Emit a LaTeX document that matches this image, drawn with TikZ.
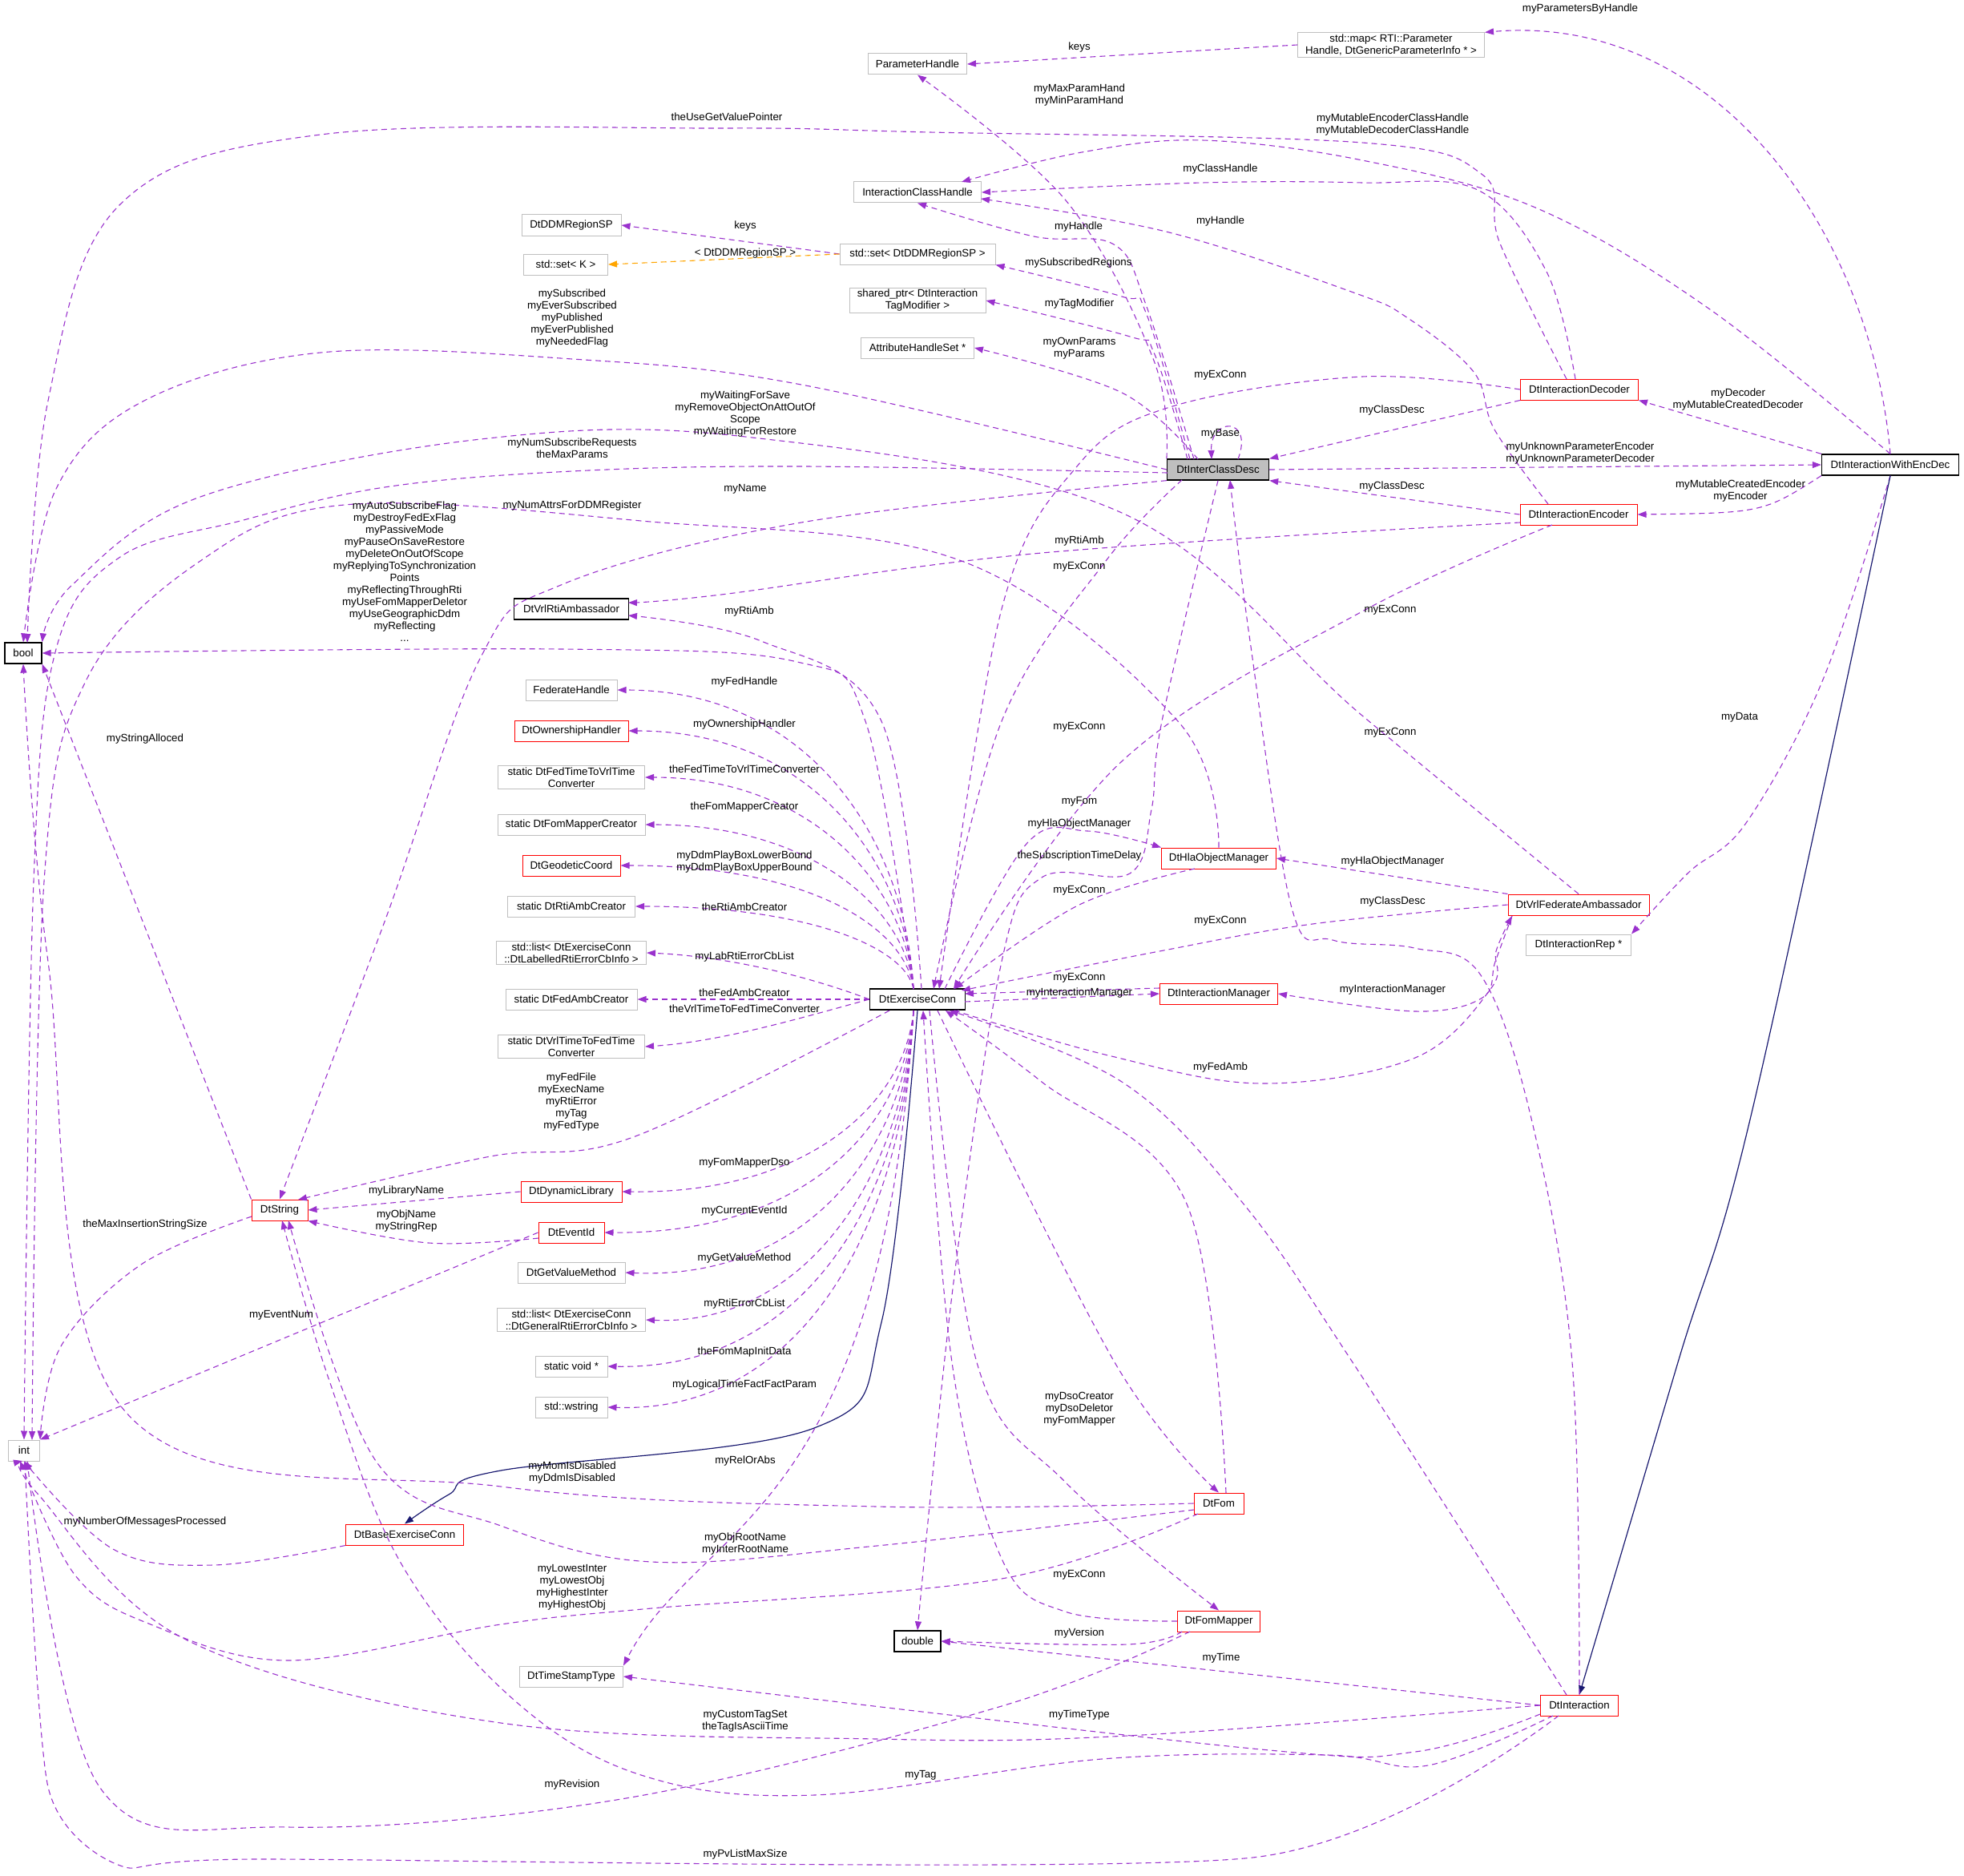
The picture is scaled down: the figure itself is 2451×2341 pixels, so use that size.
\documentclass[tikz,border=0pt]{standalone}
\usepackage{fontspec}
\setmainfont{Liberation Sans}
\usetikzlibrary{arrows.meta}
\definecolor{dep}{HTML}{9A32CD}
\definecolor{inh}{HTML}{191970}
\definecolor{tmp}{HTML}{FFA500}
\definecolor{gb}{HTML}{BFBFBF}
\begin{document}
\begin{tikzpicture}[x=1pt,y=-1pt,
  every node/.style={font=\fontsize{13.3}{15}\selectfont, inner sep=2pt, align=center},
  box/.style={draw, line width=1pt, minimum height=26pt, fill=white},
  gray/.style={box, draw=gb},
  red/.style={box, draw=red},
  blk/.style={box, draw=black, line width=1.3pt},
  lab/.style={fill=none},
  dep/.style={draw=dep, line width=1.1pt, dash pattern=on 7pt off 5pt, -{Triangle[length=11pt,width=8pt]}},
  tmpl/.style={dep, draw=tmp, -{Triangle[length=11pt,width=8pt,fill=tmp]}},
  inhe/.style={draw=inh, line width=1.2pt, -{Triangle[length=11pt,width=8pt]}},
  sm/.style={smooth, tension=0.6}]
\useasboundingbox (0,0) rectangle (2451,2341);
% nodes
\node[gray, minimum width=123] (PH) at (1145,80) {ParameterHandle};
\node[gray, minimum width=233] (Map) at (1736,56) {std::map< RTI::Parameter\\Handle, DtGenericParameterInfo * >};
\node[gray, minimum width=159] (ICH) at (1145,240) {InteractionClassHandle};
\node[gray, minimum width=124] (DDMR) at (713,281) {DtDDMRegionSP};
\node[gray, minimum width=105] (SetK) at (706,330) {std::set< K >};
\node[gray, minimum width=194] (SetDDM) at (1145,317) {std::set< DtDDMRegionSP >};
\node[gray, minimum width=170] (SP) at (1145,375) {shared\_ptr< DtInteraction\\TagModifier >};
\node[gray, minimum width=141] (AHS) at (1145,434) {AttributeHandleSet *};
\node[blk, fill=gb, minimum width=127] (ICD) at (1520,586) {DtInterClassDesc};
\node[red, minimum width=147] (Dec) at (1971,486) {DtInteractionDecoder};
\node[blk, minimum width=171] (WED) at (2359,580) {DtInteractionWithEncDec};
\node[red, minimum width=146] (Enc) at (1970,642) {DtInteractionEncoder};
\node[blk, minimum width=46] (bool) at (29,815) {bool};
\node[blk, minimum width=143] (VRA) at (713,760) {DtVrlRtiAmbassador};
\node[gray, minimum width=114] (FH) at (713,861) {FederateHandle};
\node[red, minimum width=142] (OH) at (713,912) {DtOwnershipHandler};
\node[gray, minimum width=183] (FTV) at (713,970) {static DtFedTimeToVrlTime\\Converter};
\node[gray, minimum width=184] (FMC) at (713,1029) {static DtFomMapperCreator};
\node[red, minimum width=122] (GC) at (713,1080) {DtGeodeticCoord};
\node[gray, minimum width=159] (RAC) at (713,1131) {static DtRtiAmbCreator};
\node[gray, minimum width=187] (LL) at (713,1189) {std::list< DtExerciseConn\\::DtLabelledRtiErrorCbInfo >};
\node[gray, minimum width=164] (FAC) at (713,1247) {static DtFedAmbCreator};
\node[gray, minimum width=183] (VTF) at (713,1306) {static DtVrlTimeToFedTime\\Converter};
\node[blk, minimum width=119] (EC) at (1145,1247) {DtExerciseConn};
\node[red, minimum width=143] (Hla) at (1521,1071) {DtHlaObjectManager};
\node[red, minimum width=176] (Vrl) at (1970,1129) {DtVrlFederateAmbassador};
\node[gray, minimum width=131] (Rep) at (1970,1179) {DtInteractionRep *};
\node[red, minimum width=147] (IM) at (1521,1240) {DtInteractionManager};
\node[red, minimum width=70] (Str) at (349,1510) {DtString};
\node[red, minimum width=126] (DL) at (713,1487) {DtDynamicLibrary};
\node[red, minimum width=82] (EI) at (713,1538) {DtEventId};
\node[gray, minimum width=134] (GVM) at (713,1588) {DtGetValueMethod};
\node[gray, minimum width=185] (GL) at (713,1647) {std::list< DtExerciseConn\\::DtGeneralRtiErrorCbInfo >};
\node[gray, minimum width=90] (SV) at (713,1705) {static void *};
\node[gray, minimum width=90] (WS) at (713,1756) {std::wstring};
\node[gray, minimum width=39] (int) at (30,1810) {int};
\node[red, minimum width=62] (Fom) at (1521,1876) {DtFom};
\node[red, minimum width=147] (Base) at (505,1915) {DtBaseExerciseConn};
\node[blk, minimum width=58] (Dbl) at (1145,2048) {double};
\node[red, minimum width=103] (FM) at (1521,2023) {DtFomMapper};
\node[gray, minimum width=129] (TST) at (713,2092) {DtTimeStampType};
\node[red, minimum width=97] (Int) at (1971,2128) {DtInteraction};

% edges
\draw[dep] (Map.west) -- (PH.east);
\draw[dep] (WED.north) to[out=95,in=5] (Map.north east);
\draw[dep] (SetDDM.west) -- (DDMR.east);
\draw[tmpl] (SetDDM.west) -- (SetK.east);
\draw[dep] plot[sm] coordinates {(ICD.north west) (1440,450) (1330,250) (PH.south)};
\draw[dep] plot[sm] coordinates {(1490,573) (1430,380) (1390,305) (1290,295) (ICH.south)};
\draw[dep] plot[sm] coordinates {(1485,573) (1430,390) (1400,370) (SetDDM.south east)};
\draw[dep] plot[sm] coordinates {(1482,573) (1440,440) (1410,420) (SP.east)};
\draw[dep] plot[sm] coordinates {(1495,573) (1400,490) (AHS.east)};
\draw[dep] (1545,573) .. controls (1565,520) and (1510,520) .. (1512,573);
\draw[dep] plot[sm] coordinates {(ICD.west) (1000,480) (714,448) (400,440) (180,500) (70,610) (bool.north)};
\draw[dep] plot[sm] coordinates {(Vrl.north) (1700,893) (1400,640) (930,545) (600,548) (250,620) (90,730) (bool.north east)};
\draw[dep] plot[sm] coordinates {(1457,590) (1000,582) (714,588) (480,608) (300,650) (150,695) (70,810) (42,1100) (int.north)};
\draw[dep] plot[sm] coordinates {(ICD.south west) (1000,652) (700,730) (600,820) (480,1150) (Str.north)};
\draw[dep] (ICD.east) -- (WED.west);
\draw[dep] plot[sm] coordinates {(ICD.south) (1450,900) (1437,1010) (1410,1090) (1300,1095) (1250,1200) (1190,1600) (Dbl.north)};
\draw[dep] plot[sm] coordinates {(1475,599) (1380,700) (1250,900) (1165,1234)};
\draw[dep] plot[sm] coordinates {(Dec.west) (1700,470) (1460,508) (1344,582) (1250,760) (1172,1234)};
\draw[dep] plot[sm] coordinates {(1966,473) (1930,339) (1844,237) (1700,228) (1500,228) (ICH.east)};
\draw[dep] plot[sm] coordinates {(1955,473) (1872,304) (1850,218) (1700,178) (1160,165) (900,160) (400,168) (150,255) (60,500) (34,802)};
\draw[dep] plot[sm] coordinates {(WED.north) (2131,384) (1916,259) (1700,200) (1500,175) (1350,190) (1200,227)};
\draw[dep] (Dec.south west) -- (ICD.north east);
\draw[dep] (Enc.west) -- (ICD.south east);
\draw[dep] plot[sm] coordinates {(1932,629) (1865,536) (1839,464) (1757,397) (1689,365) (1459,290) (1224,248)};
\draw[dep] plot[sm] coordinates {(1897,652) (1300,690) (900,742) (784,752)};
\draw[dep] plot[sm] coordinates {(1937,655) (1700,763) (1400,950) (1190,1234)};
\draw[dep] plot[sm] coordinates {(1150,1234) (1100,900) (950,800) (784,768)};
\draw[dep] plot[sm] coordinates {(1140,1234) (1080,900) (995,826) (700,810) (bool.east)};
\draw[dep] plot[sm] coordinates {(1110,1261) (790,1419) (612,1443) (372,1497)};
\draw[dep] (WED.north west) -- (Dec.south east);
\draw[dep] (WED.south west) .. controls (2200,640) .. (Enc.east);
\draw[dep] plot[sm] coordinates {(WED.south) (2275,848) (2179,1027) (2107,1089) (Rep.north east)};
\draw[inhe] plot[sm] coordinates {(WED.south) (2184,1397) (2094,1700) (Int.north)};
\draw[inhe] plot[sm] coordinates {(EC.south) (1100,1650) (1016,1782) (625,1835) (560,1865) (Base.north)};
% left column from EC
\foreach \t/\y in {FH/861,OH/912,FTV/970,FMC/1029,GC/1080,RAC/1131}
  \draw[dep] (1140,1234) .. controls (1130,{(\y+1234)/2}) and (1010,\y) .. (\t.east);
\draw[dep] (EC.west) .. controls (1000,1215) and (900,1193) .. (LL.east);
\draw[dep] (EC.west) -- (FAC.east);
\draw[dep] (EC.west) .. controls (1000,1270) and (900,1300) .. (VTF.east);
\foreach \t/\y in {DL/1490,EI/1540,GVM/1598,GL/1655,SV/1710,WS/1764}
  \draw[dep] (1140,1261) .. controls (1130,{(\y+1261)/2}) and (1010,\y) .. (\t.east);
\draw[dep] (1140,1261) .. controls (1100,1900) and (870,1900) .. (TST.north east);
% middle-right
\draw[dep] plot[sm] coordinates {(1179,1234) (1281,1053) (1357,1037) (Hla.north west)};
\draw[dep] plot[sm] coordinates {(1491,1084) (1345,1130) (1191,1234)};
\draw[dep] (Vrl.north west) -- (Hla.east);
\draw[dep] plot[sm] coordinates {(Vrl.west) (1638,1153) (1447,1187) (1200,1236)};
\draw[dep] (IM.west) ++(0,-7) -- (1204,1240);
\draw[dep] (1204,1250) -- (IM.west);
\draw[dep] plot[sm] coordinates {(1887,1143) (1866,1200) (1850,1245) (1766,1262) (IM.east)};
\draw[dep] plot[sm] coordinates {(1191,1261) (1383,1317) (1574,1352) (1766,1320) (1861,1233) (1867,1187) (1887,1143)};
\draw[dep] plot[sm] coordinates {(Hla.north) (1470,900) (1200,700) (800,650) (430,630) (250,700) (107,850) (55,1100) (40,1797)};
\draw[dep] plot[sm] coordinates {(Int.north) (1962,1700) (1912,1400) (1848,1217) (1765,1183) (1663,1173) (1612,1133) (1560,800) (1535,599)};
\draw[dep] plot[sm] coordinates {(1955,2115) (1688,1700) (1550,1500) (1400,1350) (1185,1261)};
% lower
\draw[dep] (Str.north west) -- (bool.south east);
\draw[dep] plot[sm] coordinates {(314,1518) (176,1578) (76,1680) (int.north east)};
\draw[dep] (EI.west) -- (int.north east);
\draw[dep] plot[sm] coordinates {(672,1545) (535,1551) (Str.south east)};
\draw[dep] (DL.west) -- (Str.east);
\draw[dep] plot[sm] coordinates {(Base.south west) (266,1953) (141,1933) (int.south)};
\draw[dep] plot[sm] coordinates {(Fom.west) (1094,1880) (625,1855) (156,1761) (60,1200) (bool.south)};
\draw[dep] plot[sm] coordinates {(1490,1884) (1094,1929) (813,1949) (625,1904) (469,1823) (360,1523)};
\draw[dep] plot[sm] coordinates {(1495,1889) (1250,1970) (813,2007) (625,2027) (360,2072) (188,2027) (94,1966) (25,1823)};
\draw[dep] plot[sm] coordinates {(1170,1261) (1391,1700) (Fom.north)};
\draw[dep] plot[sm] coordinates {(1530,1863) (1480,1500) (1300,1350) (1180,1261)};
\draw[dep] plot[sm] coordinates {(1160,1261) (1219,1700) (1330,1850) (FM.north)};
\draw[dep] plot[sm] coordinates {(FM.west) (1329,2011) (1250,1945) (1188,1700) (1152,1261)};
\draw[dep] plot[sm] coordinates {(1475,2036) (1407,2052) (Dbl.east)};
\draw[dep] plot[sm] coordinates {(1485,2036) (1250,2129) (781,2244) (360,2280) (125,2231) (34,1823)};
\draw[dep] (Int.west) -- (Dbl.east);
\draw[dep] plot[sm] coordinates {(1922,2139) (1766,2186) (1563,2182) (TST.east)};
\draw[dep] plot[sm] coordinates {(Int.west) (1407,2166) (1094,2170) (625,2150) (234,2047) (47,1864) (28,1823)};
\draw[dep] plot[sm] coordinates {(1938,2141) (1782,2203) (1657,2190) (1375,2195) (1016,2240) (800,2215) (640,2120) (500,1950) (410,1720) (352,1523)};
\draw[dep] plot[smooth, tension=0.4] coordinates {(1945,2141) (1563,2318) (313,2320) (150,2328) (60,2230) (31,1823)};

% labels
\node[lab] (l1) at (1347,59) {keys};
\node[lab] (l2) at (1972,11) {myParametersByHandle};
\node[lab] (l3) at (907,146) {theUseGetValuePointer};
\node[lab] (l4) at (1347,119) {myMaxParamHand\\myMinParamHand};
\node[lab] (l5) at (1738,156) {myMutableEncoderClassHandle\\myMutableDecoderClassHandle};
\node[lab] (l6) at (1523,211) {myClassHandle};
\node[lab] (l7) at (1346,283) {myHandle};
\node[lab] (l8) at (1523,276) {myHandle};
\node[lab] (l9) at (930,282) {keys};
\node[lab] (l10) at (930,316) {< DtDDMRegionSP >};
\node[lab] (l11) at (1346,328) {mySubscribedRegions};
\node[lab] (l12) at (1347,379) {myTagModifier};
\node[lab] (l13) at (1347,435) {myOwnParams\\myParams};
\node[lab] (l14) at (1523,468) {myExConn};
\node[lab] (l15) at (1737,512) {myClassDesc};
\node[lab] (l16) at (2169,499) {myDecoder\\myMutableCreatedDecoder};
\node[lab] (l17) at (1523,541) {myBase};
\node[lab] (l18) at (714,397) {mySubscribed\\myEverSubscribed\\myPublished\\myEverPublished\\myNeededFlag};
\node[lab] (l19) at (930,517) {myWaitingForSave\\myRemoveObjectOnAttOutOf\\Scope\\myWaitingForRestore};
\node[lab] (l20) at (714,559) {myNumSubscribeRequests\\theMaxParams};
\node[lab] (l21) at (1972,566) {myUnknownParameterEncoder\\myUnknownParameterDecoder};
\node[lab] (l22) at (1737,607) {myClassDesc};
\node[lab] (l23) at (2172,613) {myMutableCreatedEncoder\\myEncoder};
\node[lab] (l24) at (505,713) {myAutoSubscribeFlag\\myDestroyFedExFlag\\myPassiveMode\\myPauseOnSaveRestore\\myDeleteOnOutOfScope\\myReplyingToSynchronization\\Points\\myReflectingThroughRti\\myUseFomMapperDeletor\\myUseGeographicDdm\\myReflecting\\...};
\node[lab] (l25) at (714,631) {myNumAttrsForDDMRegister};
\node[lab] (l26) at (930,610) {myName};
\node[lab] (l27) at (1347,675) {myRtiAmb};
\node[lab] (l28) at (1347,707) {myExConn};
\node[lab] (l29) at (935,763) {myRtiAmb};
\node[lab] (l30) at (1735,761) {myExConn};
\node[lab] (l31) at (2171,895) {myData};
\node[lab] (l32) at (181,922) {myStringAlloced};
\node[lab] (l33) at (929,851) {myFedHandle};
\node[lab] (l34) at (929,904) {myOwnershipHandler};
\node[lab] (l35) at (929,960) {theFedTimeToVrlTimeConverter};
\node[lab] (l36) at (929,1007) {theFomMapperCreator};
\node[lab] (l37) at (929,1076) {myDdmPlayBoxLowerBound\\myDdmPlayBoxUpperBound};
\node[lab] (l38) at (929,1132) {theRtiAmbCreator};
\node[lab] (l39) at (929,1194) {myLabRtiErrorCbList};
\node[lab] (l40) at (929,1239) {theFedAmbCreator};
\node[lab] (l41) at (929,1259) {theVrlTimeToFedTimeConverter};
\node[lab] (l42) at (1347,1028) {myHlaObjectManager};
\node[lab] (l43) at (1347,1068) {theSubscriptionTimeDelay};
\node[lab] (l44) at (1347,1111) {myExConn};
\node[lab] (l45) at (1738,1075) {myHlaObjectManager};
\node[lab] (l46) at (1738,1125) {myClassDesc};
\node[lab] (l47) at (1523,1149) {myExConn};
\node[lab] (l48) at (1347,1220) {myExConn};
\node[lab] (l49) at (1347,1239) {myInteractionManager};
\node[lab] (l50) at (1738,1235) {myInteractionManager};
\node[lab] (l51) at (1523,1332) {myFedAmb};
\node[lab] (l52) at (1347,907) {myExConn};
\node[lab] (l53) at (1735,914) {myExConn};
\node[lab] (l54) at (1347,1000) {myFom};
\node[lab] (l55) at (713,1375) {myFedFile\\myExecName\\myRtiError\\myTag\\myFedType};
\node[lab] (l56) at (929,1451) {myFomMapperDso};
\node[lab] (l57) at (507,1486) {myLibraryName};
\node[lab] (l58) at (929,1511) {myCurrentEventId};
\node[lab] (l59) at (507,1524) {myObjName\\myStringRep};
\node[lab] (l60) at (181,1528) {theMaxInsertionStringSize};
\node[lab] (l61) at (929,1570) {myGetValueMethod};
\node[lab] (l62) at (929,1627) {myRtiErrorCbList};
\node[lab] (l63) at (351,1641) {myEventNum};
\node[lab] (l64) at (929,1687) {theFomMapInitData};
\node[lab] (l65) at (929,1728) {myLogicalTimeFactFactParam};
\node[lab] (l66) at (1347,1758) {myDsoCreator\\myDsoDeletor\\myFomMapper};
\node[lab] (l67) at (930,1823) {myRelOrAbs};
\node[lab] (l68) at (714,1838) {myMomIsDisabled\\myDdmIsDisabled};
\node[lab] (l69) at (181,1899) {myNumberOfMessagesProcessed};
\node[lab] (l70) at (930,1927) {myObjRootName\\myInterRootName};
\node[lab] (l71) at (714,1981) {myLowestInter\\myLowestObj\\myHighestInter\\myHighestObj};
\node[lab] (l72) at (1347,1965) {myExConn};
\node[lab] (l73) at (1347,2038) {myVersion};
\node[lab] (l74) at (1524,2069) {myTime};
\node[lab] (l75) at (930,2148) {myCustomTagSet\\theTagIsAsciiTime};
\node[lab] (l76) at (1347,2140) {myTimeType};
\node[lab] (l77) at (1149,2215) {myTag};
\node[lab] (l78) at (714,2227) {myRevision};
\node[lab] (l79) at (930,2314) {myPvListMaxSize};
\end{tikzpicture}
\end{document}
